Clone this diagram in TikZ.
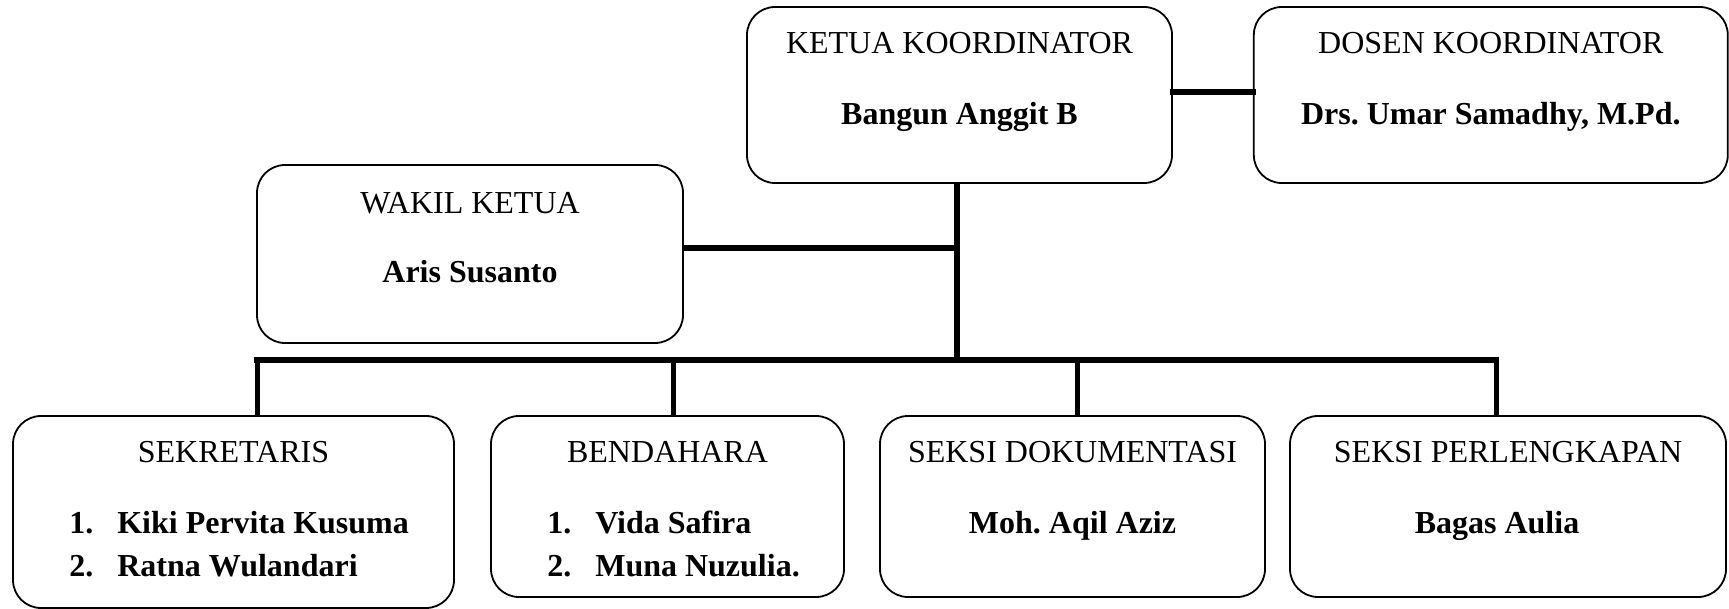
\documentclass[tikz,border=0pt]{standalone}
\usepackage{fontspec}
\setmainfont{Liberation Serif}[BoldFont={Liberation Serif Bold}, ItalicFont={Liberation Serif Italic}]
\frenchspacing
\usetikzlibrary{positioning, calc}

\begin{document}
\begin{tikzpicture}[
    x=1pt, y=-1pt,
    card/.style   ={rectangle, draw, line width=1.8pt, rounded corners=28pt, inner sep=0pt},
    title/.style  ={font=\fontsize{32}{43}\selectfont, anchor=base, inner sep=0pt},
    person/.style ={font=\fontsize{32}{43}\selectfont\bfseries, anchor=base, inner sep=0pt},
    members/.style={font=\fontsize{32}{43}\selectfont\bfseries, anchor=base west, inner sep=0pt},
    bar/.style    ={line width=6pt, line cap=rect},
    drop/.style   ={line width=5pt},
    ]
    \useasboundingbox (0,0) rectangle (1729,609);

    % --- Top row ---
    \node[card, minimum width=425pt, minimum height=176pt] (ketua) at (959.5,95) {};
    \node[card, minimum width=474pt, minimum height=176pt, right=80pt of ketua] (dosen) {};
    \node[card, minimum width=426pt, minimum height=178pt] (wakil) at (470,254) {};

    \node[title]  (ketua_t) at ($(ketua.north)+(0,47)$) {KETUA KOORDINATOR};
    \node[person] (ketua_n) at ($(ketua.north)+(0,118)$) {Bangun Anggit B};
    \node[title]  (dosen_t) at ($(dosen.north)+(0,47)$) {DOSEN KOORDINATOR};
    \node[person] (dosen_n) at ($(dosen.north)+(0,118)$) {Drs. Umar Samadhy, M.Pd.};
    \node[title]  (wakil_t) at ($(wakil.north)+(0,49)$) {WAKIL KETUA};
    \node[person] (wakil_n) at ($(wakil.north)+(0,118)$) {Aris Susanto};

    % --- Bottom row ---
    \node[card, minimum width=441pt, minimum height=192pt] (sekre) at (233.5,512) {};
    \node[card, minimum width=353pt, minimum height=181pt] (benda) at (667.5,506.5) {};
    \node[card, minimum width=385pt, minimum height=181pt] (doku) at (1072.5,506.5) {};
    \node[card, minimum width=436pt, minimum height=181pt] (perlu) at (1508,506.5) {};

    \node[title] (sekre_t) at ($(sekre.north)+(0,47)$) {SEKRETARIS};
    \node[members] (sekre_n) at ($(sekre.north west)+(57,118)$)
        {\begin{tabular}[t]{@{}l@{\hspace{24pt}}l@{}}1. & Kiki Pervita Kusuma\\ 2. & Ratna Wulandari\end{tabular}};
    \node[title] (benda_t) at ($(benda.north)+(0,47)$) {BENDAHARA};
    \node[members] (benda_n) at ($(benda.north west)+(57,118)$)
        {\begin{tabular}[t]{@{}l@{\hspace{24pt}}l@{}}1. & Vida Safira\\ 2. & Muna Nuzulia.\end{tabular}};
    \node[title]  (doku_t) at ($(doku.north)+(0,47)$) {SEKSI DOKUMENTASI};
    \node[person] (doku_n) at ($(doku.north)+(0,118)$) {Moh. Aqil Aziz};
    \node[title]  (perlu_t) at ($(perlu.north)+(0,47)$) {SEKSI PERLENGKAPAN};
    \node[person] (perlu_n) at ($(perlu.north)+(-11,118)$) {Bagas Aulia};

    % --- Connections ---
    \coordinate (hub) at (957,360);
    \coordinate (w_link) at ($(wakil.east)+(0,-6)$);
    \coordinate (bus_l) at (257,360);
    \coordinate (bus_r) at (1496,360);

    \draw[bar] ([yshift=3pt]ketua.east) -- ([yshift=3pt]dosen.west);
    \draw[drop, line width=6pt] (hub |- ketua.south) -- (hub);
    \draw[bar, line cap=butt] (w_link) -- (w_link -| hub);
    \draw[bar] (bus_l) -- (bus_r);
    \foreach \x/\n in {257/sekre, 673/benda, 1077/doku, 1496/perlu}{
        \coordinate (d_\n) at (\x,360);
        \draw[drop] (d_\n) -- (d_\n |- \n.north);
    }

\end{tikzpicture}
\end{document}
